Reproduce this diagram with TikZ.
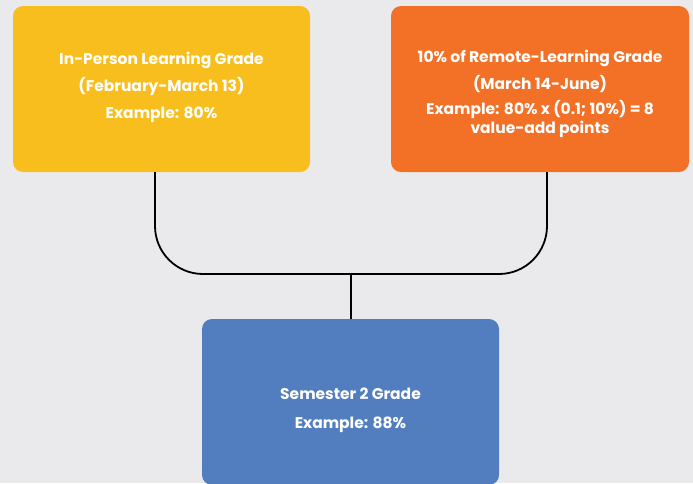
\documentclass[tikz,border=0pt]{standalone}
\usepackage{fontspec}
\setmainfont{Poppins}[BoldFont={* Bold}]
\usetikzlibrary{calc}
\definecolor{bg}{RGB}{234,234,236}
\definecolor{cyellow}{RGB}{248,190,30}
\definecolor{corange}{RGB}{243,112,39}
\definecolor{cblue}{RGB}{82,126,192}
\tikzset{
  card/.style={rounded corners=10pt, inner sep=0pt, draw=none},
  label/.style={text=white, font=\fontsize{15.5}{19}\selectfont\bfseries, align=center, inner sep=0pt},
  wire/.style={draw=black, line width=1.8pt, rounded corners=48pt}
}
\begin{document}
\begin{tikzpicture}[x=1pt,y=-1pt]
\useasboundingbox[fill=bg] (0,0) rectangle (693,483);
\node[card, fill=cyellow, minimum width=297pt, minimum height=166pt] (yb) at (161.5,89) {};
\node[card, fill=corange, minimum width=298pt, minimum height=166pt] (ob) at (540,89) {};
\node[card, fill=cblue, minimum width=297pt, minimum height=166pt] (bb) at (350.5,402) {};
\node[label] (yt) at (161.5,87) {In-Person Learning Grade\\[8pt](February-March 13)\\[8pt]Example: 80\%};
\node[label] (ot) at (540,94) {10\% of Remote-Learning Grade\\[8pt](March 14-June)\\[6pt]Example: 80\% x (0.1; 10\%) = 8\\value-add points};
\node[label] (bt) at (350.5,410.5) {Semester 2 Grade\\[10pt]Example: 88\%};
\coordinate (ya) at (155,172);
\coordinate (oa) at (547,172);
\coordinate (j) at (351,274);
\draw[wire] (ya) |- (j) -| (oa);
\draw[line width=1.8pt] (j) -- (j |- bb.north);
\end{tikzpicture}
\end{document}
